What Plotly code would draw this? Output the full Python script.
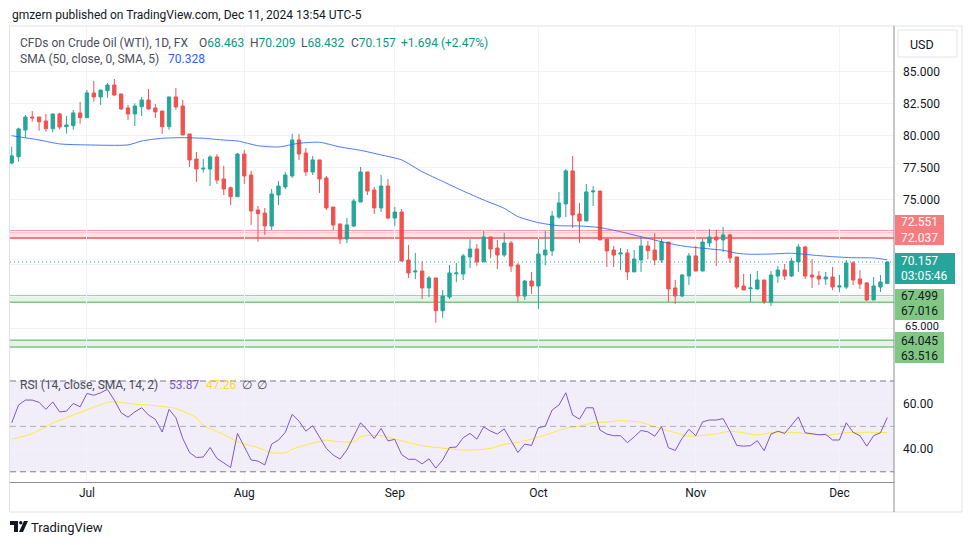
import plotly.graph_objects as go

W, H = 970, 545
GREEN = '#26a69a'
RED = '#ef5350'
FONT = 'Trebuchet MS, Roboto, sans-serif'

# ---------------- data ----------------
month_labels = ['Jul', 'Aug', 'Sep', 'Oct', 'Nov', 'Dec']
month_start_idx = [11, 34, 56, 77, 100, 121]

opens = [77.89, 78.38, 80.47, 81.48, 81.48, 81.17, 80.57, 81.72, 80.73, 80.80,
         81.80, 81.43, 83.36, 83.05, 83.54, 83.98, 83.28, 82.19, 81.72, 82.29,
         82.81, 82.19, 81.95, 80.73, 83.05, 82.34, 80.16, 78.20, 77.42, 77.42,
         78.36, 76.64, 75.96, 75.26, 78.59, 76.95, 74.22, 73.98, 72.97, 75.39,
         76.02, 76.88, 79.69, 78.67, 77.19, 78.13, 76.72, 74.45, 73.13, 71.95,
         72.97, 74.84, 77.19, 75.78, 74.38, 76.09, 73.59, 74.06, 70.31, 69.38,
         69.45, 68.13, 68.91, 66.35, 67.42, 69.24, 69.22, 70.55, 71.17, 70.16,
         72.11, 71.25, 70.70, 71.64, 69.92, 67.50, 68.67, 68.28, 70.70, 71.02,
         73.67, 74.69, 77.27, 73.91, 73.36, 75.63, 75.70, 71.95, 71.09, 70.78,
         70.86, 69.38, 70.31, 71.41, 71.09, 70.31, 71.72, 68.13, 67.50, 69.06,
         70.63, 69.45, 71.64, 72.11, 71.88, 72.27, 70.55, 68.28, 68.07, 68.05,
         68.75, 67.03, 69.06, 69.53, 69.06, 70.16, 71.33, 69.14, 69.06, 68.83,
         68.98, 68.20, 68.20, 70.08, 68.83, 68.52, 67.19, 68.20, 68.463]
highs = [79.16, 80.65, 81.64, 81.95, 81.48, 81.72, 81.72, 81.80, 81.56, 82.03,
         82.66, 83.59, 84.30, 83.59, 84.14, 84.45, 83.28, 82.42, 82.55, 83.05,
         83.67, 82.50, 81.95, 83.05, 83.75, 82.81, 80.16, 78.75, 78.20, 78.49,
         78.57, 77.66, 76.04, 78.67, 78.91, 77.27, 74.53, 74.38, 75.86, 76.48,
         77.19, 80.16, 80.16, 79.06, 78.44, 78.13, 76.88, 74.45, 73.13, 73.59,
         75.08, 77.58, 77.19, 76.02, 76.95, 76.64, 74.45, 74.30, 71.48, 70.86,
         70.23, 69.06, 68.91, 67.97, 69.92, 70.08, 70.78, 71.95, 71.56, 72.58,
         72.11, 71.88, 72.42, 71.80, 70.08, 68.75, 69.38, 71.95, 72.58, 74.14,
         75.63, 77.42, 78.44, 74.77, 76.25, 76.09, 75.70, 71.95, 71.41, 71.25,
         71.17, 71.09, 72.11, 71.80, 72.42, 71.95, 71.72, 68.75, 69.22, 70.86,
         71.41, 71.95, 72.73, 72.66, 72.89, 72.34, 70.55, 69.22, 69.22, 69.45,
         68.75, 69.45, 69.84, 70.00, 70.47, 71.56, 71.41, 70.39, 69.45, 69.38,
         69.77, 69.14, 70.31, 70.23, 69.53, 68.59, 68.98, 69.14, 70.209]
lows = [77.79, 77.99, 79.87, 81.12, 80.41, 80.34, 80.29, 80.52, 80.18, 80.49,
        80.96, 81.43, 82.68, 82.42, 82.99, 83.15, 82.05, 81.25, 80.78, 81.56,
        82.05, 81.41, 80.16, 80.49, 82.05, 80.08, 77.58, 76.41, 77.13, 76.09,
        76.25, 75.39, 74.61, 75.26, 76.25, 73.05, 71.74, 72.27, 72.66, 74.61,
        75.86, 76.72, 78.13, 76.88, 76.95, 75.55, 74.22, 72.66, 71.56, 71.64,
        72.89, 74.84, 75.39, 73.91, 74.06, 73.52, 72.97, 70.23, 68.91, 68.83,
        67.27, 67.42, 65.41, 65.80, 67.27, 68.59, 68.75, 69.69, 69.84, 70.16,
        70.47, 69.61, 70.55, 69.38, 67.03, 67.19, 67.66, 66.48, 69.92, 70.63,
        73.52, 73.67, 72.81, 71.64, 73.36, 74.53, 71.88, 69.77, 69.77, 69.53,
        68.75, 69.38, 69.38, 70.39, 69.92, 70.08, 67.03, 66.88, 67.42, 68.36,
        69.45, 69.45, 71.33, 69.84, 70.94, 70.08, 68.05, 67.97, 67.03, 67.97,
        66.88, 66.72, 68.52, 68.75, 68.98, 69.38, 68.83, 68.13, 68.36, 68.36,
        67.97, 67.81, 68.05, 68.36, 68.05, 67.11, 67.19, 67.81, 68.432]
closes = [78.44, 80.55, 81.48, 81.41, 81.12, 80.57, 81.72, 80.70, 80.86, 81.80,
          81.43, 83.36, 83.05, 83.59, 83.98, 83.20, 82.11, 81.72, 82.34, 82.81,
          82.11, 81.88, 80.73, 83.05, 82.27, 80.08, 78.13, 77.42, 77.48, 78.36,
          76.56, 75.86, 75.26, 78.59, 76.88, 74.14, 73.93, 72.97, 75.47, 76.09,
          76.95, 79.69, 78.59, 77.19, 78.13, 76.64, 74.38, 73.05, 71.95, 73.05,
          74.92, 77.19, 75.70, 74.38, 76.09, 73.59, 74.06, 70.23, 69.30, 69.45,
          68.13, 68.91, 66.35, 67.50, 69.30, 69.30, 70.63, 71.17, 70.16, 72.11,
          71.17, 70.70, 71.64, 69.84, 67.50, 68.67, 68.28, 70.78, 71.09, 73.75,
          74.77, 77.27, 73.83, 73.36, 75.63, 75.70, 71.88, 71.02, 70.70, 70.86,
          69.38, 70.39, 71.41, 71.04, 70.31, 71.72, 68.05, 67.50, 69.14, 70.63,
          69.45, 71.72, 72.11, 71.88, 72.27, 70.47, 68.20, 67.97, 68.13, 68.75,
          67.03, 69.14, 69.53, 69.06, 70.23, 71.33, 69.06, 68.98, 68.83, 68.98,
          68.20, 68.28, 70.08, 68.75, 68.44, 67.19, 68.28, 68.59, 70.157]

sma50_idx = [0, 4, 7, 11, 17, 19, 22, 25, 28, 31, 33, 36, 39, 42, 45, 48, 51, 54,
             57, 60, 63, 66, 69, 72, 74, 77, 80, 83, 86, 89, 92, 95, 98, 101, 104,
             106, 108, 111, 114, 117, 120, 123, 126, 128]
sma50_val = [80.02, 79.69, 79.38, 79.30, 79.30, 79.61, 79.82, 79.87, 79.82, 79.68,
             79.61, 79.24, 79.14, 79.43, 79.51, 79.14, 78.88, 78.52, 78.13, 77.21,
             76.45, 75.70, 75.00, 74.35, 73.70, 73.23, 72.99, 72.97, 72.84, 72.52,
             72.13, 71.74, 71.41, 71.23, 71.07, 70.84, 70.76, 70.78, 70.84, 70.70,
             70.57, 70.49, 70.47, 70.328]

rsi_vals = [51.6, 59.4, 61.6, 61.6, 60.6, 57.5, 60.8, 56.4, 56.7, 60.1,
            58.6, 64.5, 63.7, 64.8, 66.3, 61.6, 56.0, 54.0, 56.4, 58.2,
            55.0, 53.1, 47.5, 57.5, 53.8, 44.7, 38.5, 36.3, 36.5, 40.7,
            35.9, 34.0, 31.9, 46.9, 41.0, 35.2, 34.7, 33.0, 42.2, 44.0,
            47.4, 55.3, 52.3, 47.9, 50.3, 45.4, 40.3, 37.4, 35.6, 39.6,
            45.7, 51.6, 48.4, 44.7, 49.1, 43.6, 44.3, 37.6, 35.5, 35.5,
            33.5, 35.7, 31.6, 35.2, 40.7, 40.9, 45.0, 46.9, 44.4, 49.8,
            47.9, 46.6, 48.9, 44.0, 38.5, 42.2, 41.6, 49.4, 50.1, 57.2,
            59.4, 64.8, 55.0, 53.2, 58.2, 58.2, 48.4, 46.6, 45.9, 45.9,
            42.8, 45.4, 48.2, 47.6, 45.7, 49.8, 40.6, 39.4, 44.7, 48.7,
            45.9, 52.0, 52.8, 52.8, 53.4, 47.9, 41.6, 41.3, 41.5, 43.7,
            39.3, 46.6, 47.9, 46.9, 50.6, 54.2, 47.2, 46.7, 46.3, 46.5,
            44.0, 44.0, 51.6, 47.4, 45.9, 41.3, 45.9, 47.2, 53.87]

rsi_sma_idx = [0, 3, 6, 9, 11, 14, 15, 18, 20, 23, 24, 27, 28, 31, 33, 36, 38, 40,
               41, 43, 46, 47, 50, 51, 52, 54, 56, 60, 64, 66, 68, 70, 72, 74, 76,
               78, 81, 83, 85, 87, 89, 92, 94, 97, 99, 101, 103, 105, 107, 109, 111,
               114, 117, 119, 122, 125, 128]
rsi_sma_val = [44.3, 46.8, 51.4, 55.0, 57.3, 60.6, 60.8, 59.8, 59.4, 58.4, 57.9,
               53.8, 50.5, 46.5, 43.2, 40.6, 38.4, 38.4, 39.9, 41.8, 44.0, 43.5,
               43.2, 45.4, 46.0, 45.9, 44.4, 41.5, 40.1, 39.6, 39.7, 40.3, 42.1,
               43.0, 44.4, 46.2, 49.1, 50.1, 51.6, 51.9, 52.5, 51.8, 49.8, 47.2,
               45.6, 46.0, 46.7, 47.9, 47.2, 46.2, 47.2, 47.4, 46.5, 46.0, 47.2,
               47.4, 47.26]

resistance_zone = [72.037, 72.551]
support_zone_1 = [67.016, 67.499]
support_zone_2 = [63.516, 64.045]
last_price = 70.157

price_ticks = [65, 67.5, 70, 72.5, 75, 77.5, 80, 82.5, 85]
price_tick_text = ['', '', '', '', '75.000', '77.500', '80.000', '82.500', '85.000']
partly_hidden_tick = '65.000'
rsi_ticks = [40, 60]
rsi_tick_text = ['40.00', '60.00']

# ---------------- helpers ----------------
def px(x):
    return x / W

def py(y):
    return 1 - y / H

idx = list(range(len(closes)))

fig = go.Figure()

fig.add_trace(go.Candlestick(
    x=idx, open=opens, high=highs, low=lows, close=closes,
    increasing=dict(line=dict(color=GREEN, width=1), fillcolor=GREEN),
    decreasing=dict(line=dict(color=RED, width=1), fillcolor=RED),
    whiskerwidth=0, showlegend=False, hoverinfo='skip',
    xaxis='x', yaxis='y'))

fig.add_trace(go.Scatter(
    x=sma50_idx, y=sma50_val, mode='lines',
    line=dict(color='#2962ff', width=1, shape='spline', smoothing=0.6),
    opacity=0.85, showlegend=False, hoverinfo='skip', xaxis='x', yaxis='y'))

fig.add_trace(go.Scatter(
    x=rsi_sma_idx, y=rsi_sma_val, mode='lines',
    line=dict(color='#fdeb3d', width=1, shape='spline', smoothing=0.6),
    showlegend=False, hoverinfo='skip', xaxis='x', yaxis='y2'))

fig.add_trace(go.Scatter(
    x=idx, y=rsi_vals, mode='lines',
    line=dict(color='#7e57c2', width=1),
    showlegend=False, hoverinfo='skip', xaxis='x', yaxis='y2'))

shapes = []
# zones
for lo, hi, line_c, fill_c, lw in [
        (resistance_zone[0], resistance_zone[1], '#f77c80', 'rgba(242,54,69,0.15)', 2),
        (support_zone_1[0], support_zone_1[1], '#81c784', 'rgba(76,175,80,0.15)', 1.5),
        (support_zone_2[0], support_zone_2[1], '#81c784', 'rgba(76,175,80,0.15)', 1.5)]:
    shapes.append(dict(type='rect', xref='x domain', yref='y', x0=0, x1=1, y0=lo, y1=hi,
                       fillcolor=fill_c, line=dict(width=0), layer='below'))
    for v in (lo, hi):
        shapes.append(dict(type='line', xref='x domain', yref='y', x0=0, x1=1, y0=v, y1=v,
                           line=dict(color=line_c, width=lw), layer='below'))
# last price dotted line
shapes.append(dict(type='line', xref='x domain', yref='y', x0=0, x1=1,
                   y0=last_price, y1=last_price,
                   line=dict(color=GREEN, width=1, dash='1px,3px')))
# RSI band & levels
shapes.append(dict(type='rect', xref='x domain', yref='y2', x0=0, x1=1, y0=30, y1=70,
                   fillcolor='rgba(126,87,194,0.1)', line=dict(width=0), layer='below'))
for v, c in [(70, '#787b86'), (50, 'rgba(120,123,134,0.55)'), (30, '#787b86')]:
    shapes.append(dict(type='line', xref='x domain', yref='y2', x0=0, x1=1, y0=v, y1=v,
                       line=dict(color=c, width=1, dash='6px,4px')))
# frame
shapes.append(dict(type='rect', xref='paper', yref='paper', x0=px(9.5), x1=px(962),
                   y0=py(512), y1=py(26), line=dict(color='#e0e3eb', width=1),
                   layer='below'))
# price axis separator
shapes.append(dict(type='line', xref='paper', yref='paper', x0=px(894), x1=px(894),
                   y0=py(512), y1=py(26), line=dict(color='#8a8d96', width=1)))

annotations = []

def txt(x, y, s, size=12, color='#131722', anchor='left'):
    annotations.append(dict(xref='paper', yref='paper', x=px(x), y=py(y), text=s,
                            showarrow=False, xanchor=anchor, yanchor='middle',
                            font=dict(family=FONT, size=size, color=color)))

# 65.000 tick label, squeezed between the two support badges as in the original
txt(903, 326.5, partly_hidden_tick, 11)

def badge(x0, x1, y0, y1, fill, lines, tcolor):
    shapes.append(dict(type='rect', xref='paper', yref='paper', x0=px(x0), x1=px(x1),
                       y0=py(y1), y1=py(y0), fillcolor=fill, line=dict(width=0),
                       layer='above'))
    for (ty, s) in lines:
        txt(x0 + 4, ty, s, 12, tcolor)

badge(895, 944, 215, 245, '#f77c80', [(222, '72.551'), (238, '72.037')], '#ffffff')
badge(895, 955, 253, 284, GREEN, [(261, '70.157'), (276, '03:05:46')], '#ffffff')
badge(895, 944, 289, 320, '#81c784', [(296, '67.499'), (311, '67.016')], '#131722')
badge(895, 944, 332, 363, '#81c784', [(341, '64.045'), (356, '63.516')], '#131722')

# USD button
shapes.append(dict(type='rect', xref='paper', yref='paper', x0=px(898), x1=px(957),
                   y0=py(57), y1=py(30), fillcolor='white',
                   line=dict(color='#e0e3eb', width=1)))
txt(908, 44, 'USD', 12.5)

# header and legends
txt(10, 15, 'gmzern published on TradingView.com, Dec 11, 2024 13:54 UTC-5', 12)
LG = '#4a4d57'
txt(18, 43, 'CFDs on Crude Oil (WTI), 1D, FX', 12, LG)
val = '#089981'
txt(197, 43, f"<span style='color:{LG}'>O</span>68.463", 12, val)
txt(248, 43, f"<span style='color:{LG}'>H</span>70.209", 12, val)
txt(299, 43, f"<span style='color:{LG}'>L</span>68.432", 12, val)
txt(349, 43, f"<span style='color:{LG}'>C</span>70.157", 12, val)
txt(399, 43, '+1.694 (+2.47%)', 12, val)
txt(18, 59, 'SMA (50, close, 0, SMA, 5)', 12, LG)
txt(166, 59, '70.328', 12, '#2962ff')
txt(18, 385, 'RSI (14, close, SMA, 14, 2)', 12, LG)
txt(167, 385, '53.87', 12, '#7e57c2')
txt(204, 385, '47.26', 12, '#fdd835')
txt(240, 385, '∅', 12, LG)
txt(255, 385, '∅', 12, LG)

# TradingView logo
shapes.append(dict(type='rect', xref='paper', yref='paper', x0=px(10), x1=px(18),
                   y0=py(525), y1=py(521), fillcolor='#131722', line=dict(width=0)))
shapes.append(dict(type='rect', xref='paper', yref='paper', x0=px(14), x1=px(18),
                   y0=py(532), y1=py(521), fillcolor='#131722', line=dict(width=0)))
shapes.append(dict(type='circle', xref='paper', yref='paper', x0=px(19), x1=px(22.5),
                   y0=py(524.5), y1=py(521), fillcolor='#131722', line=dict(width=0)))
shapes.append(dict(type='path', xref='paper', yref='paper',
                   path=f'M {px(24)} {py(521)} L {px(28)} {py(521)} L {px(23)} {py(532)} L {px(19)} {py(532)} Z',
                   fillcolor='#131722', line=dict(width=0)))
txt(29, 527, 'TradingView', 13)

fig.update_layout(
    width=W, height=H,
    margin=dict(l=0, r=0, t=0, b=0),
    paper_bgcolor='white', plot_bgcolor='white',
    font=dict(family=FONT, size=12, color='#131722'),
    showlegend=False,
    xaxis=dict(domain=[px(10), px(894)], anchor='y2', range=[-0.25, 128.98],
               tickvals=month_start_idx, ticktext=month_labels,
               showgrid=True, gridcolor='#f0f3fa', zeroline=False,
               showline=True, linecolor='#8a8d96', ticks='',
               tickfont=dict(size=12, color='#131722'),
               rangeslider=dict(visible=False), fixedrange=True),
    yaxis=dict(domain=[py(370), py(26)], anchor='x', side='right',
               range=[61.72, 88.59], tickvals=price_ticks, ticktext=price_tick_text,
               showgrid=True, gridcolor='#f0f3fa', zeroline=False, showline=False,
               ticks='', ticklabelstandoff=8,
               tickfont=dict(size=12, color='#131722')),
    yaxis2=dict(domain=[py(482), py(371)], anchor='x', side='right',
                range=[25.5, 74.4], tickvals=rsi_ticks, ticktext=rsi_tick_text,
                showgrid=True, gridcolor='#f0f3fa', zeroline=False, showline=False,
                ticks='', ticklabelstandoff=8,
                tickfont=dict(size=12, color='#131722')),
    shapes=shapes, annotations=annotations,
)

fig.write_html('out.html', config={'displayModeBar': False},
               post_script="document.body.style.margin='0';document.body.style.overflow='hidden';")
